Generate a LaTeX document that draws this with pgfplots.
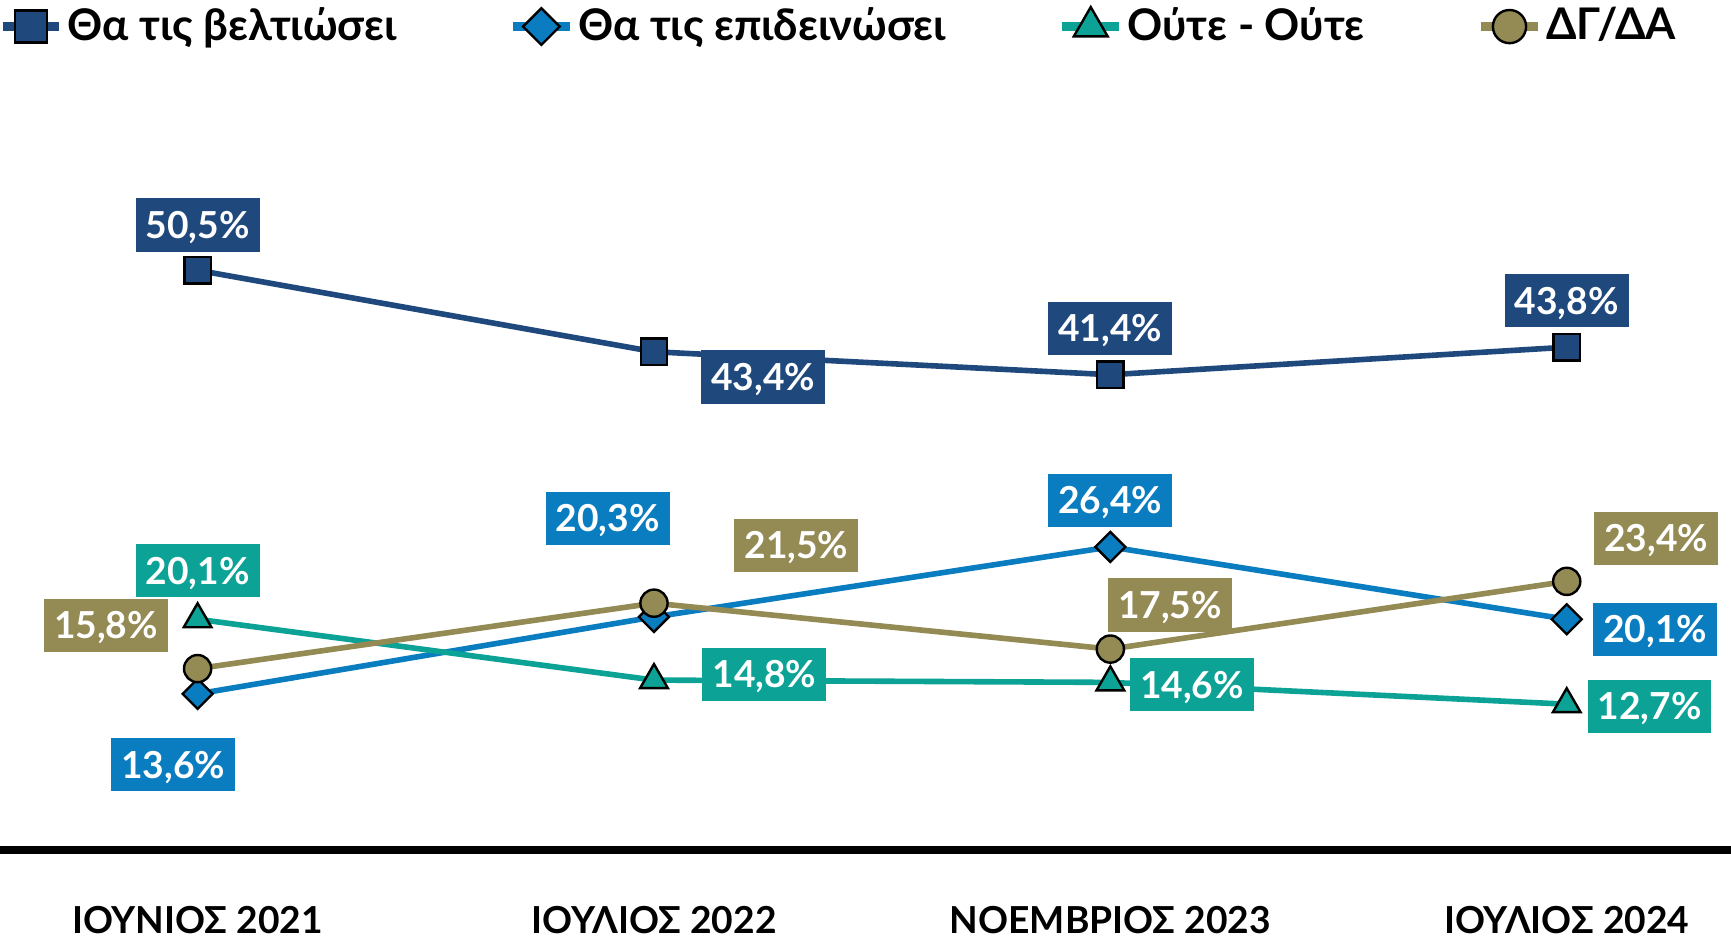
\documentclass[border=0pt]{standalone}
\usepackage{pgfplots}
\pgfplotsset{compat=1.18}
\usepackage{fontspec}
\setmainfont{Lato}
\definecolor{cdark}{RGB}{31,73,125}
\definecolor{cblue}{RGB}{10,125,193}
\definecolor{cteal}{RGB}{12,163,150}
\definecolor{colive}{RGB}{148,138,84}
\tikzset{lbl/.style={fill=#1, text=white, inner xsep=2.5pt, inner ysep=3.3pt, text height=6.7pt, text depth=0pt, font=\fontsize{9.3}{11}\selectfont\bfseries}}
\begin{document}
\begin{tikzpicture}[font=\fontsize{9.3}{11}\selectfont\bfseries]
\begin{axis}[
  scale only axis, width=432.75pt, height=200.9pt,
  xmin=-0.433, xmax=3.36, ymin=0, ymax=70,
  clip=false,
  axis y line=none, axis x line*=bottom,
  x axis line style={line width=2.2pt, black},
  xtick={0,1,2,3},
  xticklabels={ΙΟΥΝΙΟΣ 2021, ΙΟΥΛΙΟΣ 2022, ΝΟΕΜΒΡΙΟΣ 2023, ΙΟΥΛΙΟΣ 2024},
  major tick length=0pt,
  xticklabel style={anchor=center, yshift=-17.4pt, font=\fontsize{9.3}{11}\selectfont\bfseries},
  legend columns=4,
  legend style={draw=none, fill=none, at={(0.4847,1.0247)}, anchor=center,
    nodes={inner xsep=1pt, inner ysep=0pt},
    /tikz/every even column/.append style={column sep=27pt},
    font=\fontsize{10.9}{13}\selectfont\bfseries},
  legend cell align=left,
  legend image code/.code={%
    \draw[#1, line width=2.2pt, mark=none] (0cm,0cm) -- (0.5cm,0cm);
    \path[#1, every mark/.append style={scale=1.22}] plot coordinates {(0.25cm,0cm)};},
  every axis plot/.append style={line width=1.4pt},
]
\coordinate (bl) at (rel axis cs:0,0);
\addplot[cdark, mark=square*, mark size=3.3pt, mark options={fill=cdark, draw=black, line width=0.6pt}]
  coordinates {(0,50.5) (1,43.4) (2,41.4) (3,43.8)};
\addlegendentry{Θα τις βελτιώσει}
\addplot[cblue, mark=square*, mark size=2.65pt, mark options={fill=cblue, draw=black, line width=0.6pt, rotate=45}]
  coordinates {(0,13.6) (1,20.3) (2,26.4) (3,20.1)};
\addlegendentry{Θα τις επιδεινώσει}
\addplot[cteal, mark=triangle*, mark size=4pt, mark options={fill=cteal, draw=black, line width=0.6pt}]
  coordinates {(0,20.1) (1,14.8) (2,14.6) (3,12.7)};
\addlegendentry{Ούτε - Ούτε}
\addplot[colive, mark=*, mark size=3.4pt, mark options={fill=colive, draw=black, line width=0.6pt}]
  coordinates {(0,15.8) (1,21.5) (2,17.5) (3,23.4)};
\addlegendentry{ΔΓ/ΔΑ}
% labels series 1
\node[lbl=cdark, yshift=11.3pt] at (axis cs:0,50.5) {50,5\%};
\node[lbl=cdark, xshift=27.3pt, yshift=-6.3pt] at (axis cs:1,43.4) {43,4\%};
\node[lbl=cdark, yshift=11.6pt] at (axis cs:2,41.4) {41,4\%};
\node[lbl=cdark, yshift=11.6pt] at (axis cs:3,43.8) {43,8\%};
% series 2
\node[lbl=cblue, xshift=-6.1pt, yshift=-17.7pt] at (axis cs:0,13.6) {13,6\%};
\node[lbl=cblue, xshift=-11.6pt, yshift=24.6pt] at (axis cs:1,20.3) {20,3\%};
\node[lbl=cblue, yshift=11.6pt] at (axis cs:2,26.4) {26,4\%};
\node[lbl=cblue, xshift=22.1pt, yshift=-2.5pt] at (axis cs:3,20.1) {20,1\%};
% series 3
\node[lbl=cteal, yshift=12.1pt] at (axis cs:0,20.1) {20,1\%};
\node[lbl=cteal, xshift=27.6pt, yshift=1.4pt] at (axis cs:1,14.8) {14,8\%};
\node[lbl=cteal, xshift=20.4pt, yshift=-0.6pt] at (axis cs:2,14.6) {14,6\%};
\node[lbl=cteal, xshift=20.7pt, yshift=-0.6pt] at (axis cs:3,12.7) {12,7\%};
% series 4
\node[lbl=colive, xshift=-22.9pt, yshift=10.8pt] at (axis cs:0,15.8) {15,8\%};
\node[lbl=colive, xshift=35.6pt, yshift=14.4pt] at (axis cs:1,21.5) {21,5\%};
\node[lbl=colive, xshift=14.9pt, yshift=11pt] at (axis cs:2,17.5) {17,5\%};
\node[lbl=colive, xshift=22.4pt, yshift=10.8pt] at (axis cs:3,23.4) {23,4\%};
\end{axis}
\pgfresetboundingbox
\path[use as bounding box] ([yshift=-22pt]bl) rectangle ([xshift=432.75pt,yshift=212.5pt]bl);
\end{tikzpicture}
\end{document}
